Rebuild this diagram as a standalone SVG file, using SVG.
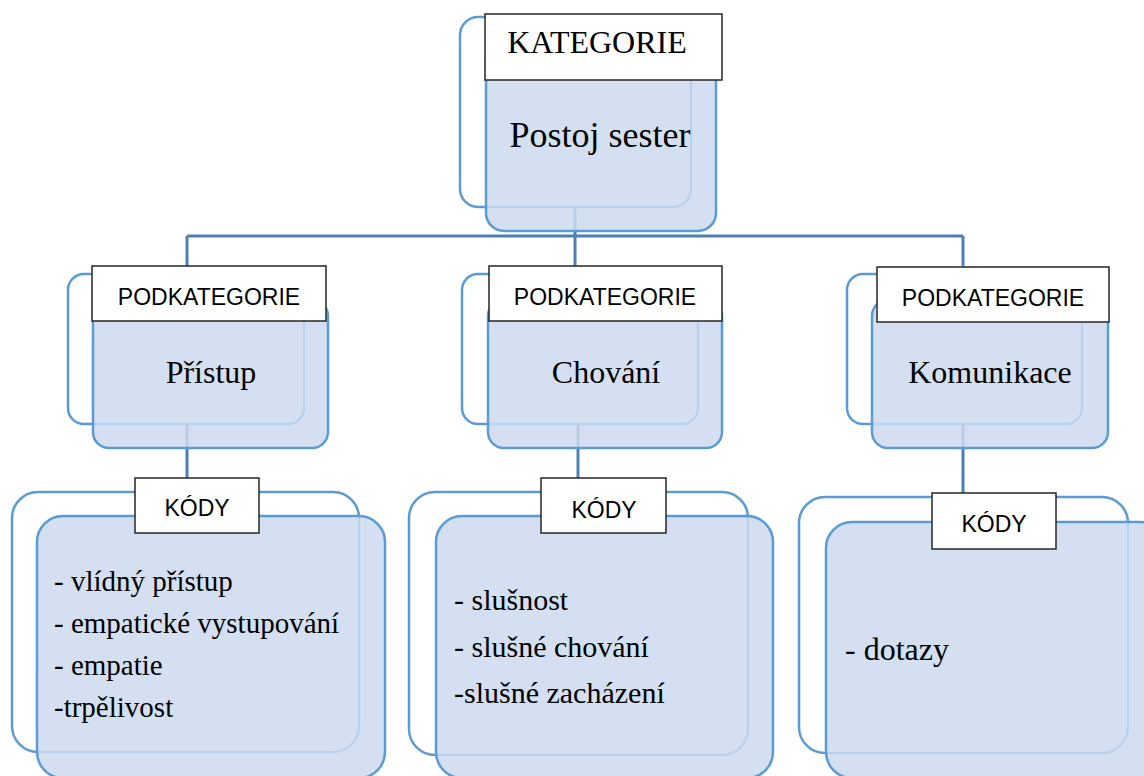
<svg xmlns="http://www.w3.org/2000/svg" width="1144" height="776" viewBox="0 0 1144 776">
  <style>
    .back { fill: none; stroke: #5b9bd5; stroke-width: 2.5; }
    .front { fill: #cddaee; fill-opacity: 0.85; stroke: #5b9bd5; stroke-width: 2.5; }
    .label { fill: #ffffff; stroke: #262626; stroke-width: 1.5; }
    .conn { fill: none; stroke: #4f80b5; stroke-width: 3; }
    .serif { font-family: "Liberation Serif", "Times New Roman", serif; fill: #000; }
    .sans { font-family: "Liberation Sans", Arial, sans-serif; fill: #000; }
  </style>
  <rect width="1144" height="776" fill="#ffffff"/>

  <!-- hierarchy connectors, drawn beneath the boxes -->
  <g id="connectors">
    <path class="conn" d="M575 207 V236 M187 236 H963 M187 236 V266 M575 236 V266 M963 236 V266"/>
    <path class="conn" d="M187 424 V480"/>
    <path class="conn" d="M578 424 V480"/>
    <path class="conn" d="M963 424 V493"/>
  </g>

  <!-- category -->
  <g id="kategorie">
    <rect class="back" x="460" y="17" width="231" height="190" rx="18"/>
    <rect class="front" x="486" y="40" width="230" height="191" rx="18"/>
    <rect class="label" x="485" y="14" width="237" height="66"/>
    <text class="serif" x="597" y="53" font-size="32" text-anchor="middle">KATEGORIE</text>
    <text class="serif" x="600" y="147" font-size="36" text-anchor="middle">Postoj sester</text>
  </g>

  <!-- subcategory: Přístup -->
  <g id="podkategorie-pristup">
    <rect class="back" x="68" y="274" width="236" height="150" rx="16"/>
    <rect class="front" x="93" y="300" width="235" height="148" rx="16"/>
    <rect class="label" x="92" y="266" width="234" height="55"/>
    <text class="sans" x="209" y="305" font-size="23" text-anchor="middle">PODKATEGORIE</text>
    <text class="serif" x="211" y="383" font-size="32" text-anchor="middle">Přístup</text>
  </g>

  <!-- subcategory: Chování -->
  <g id="podkategorie-chovani">
    <rect class="back" x="462" y="274" width="236" height="150" rx="16"/>
    <rect class="front" x="488" y="300" width="234" height="148" rx="16"/>
    <rect class="label" x="489" y="266" width="233" height="55"/>
    <text class="sans" x="605" y="305" font-size="23" text-anchor="middle">PODKATEGORIE</text>
    <text class="serif" x="606" y="383" font-size="32" text-anchor="middle">Chování</text>
  </g>

  <!-- subcategory: Komunikace -->
  <g id="podkategorie-komunikace">
    <rect class="back" x="847" y="274" width="235" height="150" rx="16"/>
    <rect class="front" x="872" y="300" width="236" height="148" rx="16"/>
    <rect class="label" x="877" y="267" width="232" height="55"/>
    <text class="sans" x="993" y="306" font-size="23" text-anchor="middle">PODKATEGORIE</text>
    <text class="serif" x="990" y="383" font-size="32" text-anchor="middle">Komunikace</text>
  </g>

  <!-- codes under Přístup -->
  <g id="kody-pristup">
    <rect class="back" x="12" y="492" width="347" height="260" rx="26"/>
    <rect class="front" x="37" y="516" width="348" height="262" rx="26"/>
    <rect class="label" x="135" y="478" width="124" height="55"/>
    <text class="sans" x="197" y="516" font-size="23" text-anchor="middle">KÓDY</text>
    <text class="serif" font-size="29">
      <tspan x="54" y="591">- vlídný přístup</tspan>
      <tspan x="54" y="633">- empatické vystupování</tspan>
      <tspan x="54" y="675">- empatie</tspan>
      <tspan x="54" y="717">-trpělivost</tspan>
    </text>
  </g>

  <!-- codes under Chování -->
  <g id="kody-chovani">
    <rect class="back" x="409" y="492" width="339" height="263" rx="26"/>
    <rect class="front" x="436" y="516" width="337" height="262" rx="26"/>
    <rect class="label" x="541" y="478" width="125" height="55"/>
    <text class="sans" x="604" y="518" font-size="23" text-anchor="middle">KÓDY</text>
    <text class="serif" font-size="30">
      <tspan x="454" y="610">- slušnost</tspan>
      <tspan x="454" y="657">- slušné chování</tspan>
      <tspan x="454" y="703">-slušné zacházení</tspan>
    </text>
  </g>

  <!-- codes under Komunikace -->
  <g id="kody-komunikace">
    <rect class="back" x="799" y="497" width="329" height="256" rx="26"/>
    <rect class="front" x="826" y="522" width="340" height="256" rx="26"/>
    <rect class="label" x="932" y="493" width="124" height="56"/>
    <text class="sans" x="994" y="532" font-size="23" text-anchor="middle">KÓDY</text>
    <text class="serif" x="845" y="660" font-size="32">- dotazy</text>
  </g>
</svg>
